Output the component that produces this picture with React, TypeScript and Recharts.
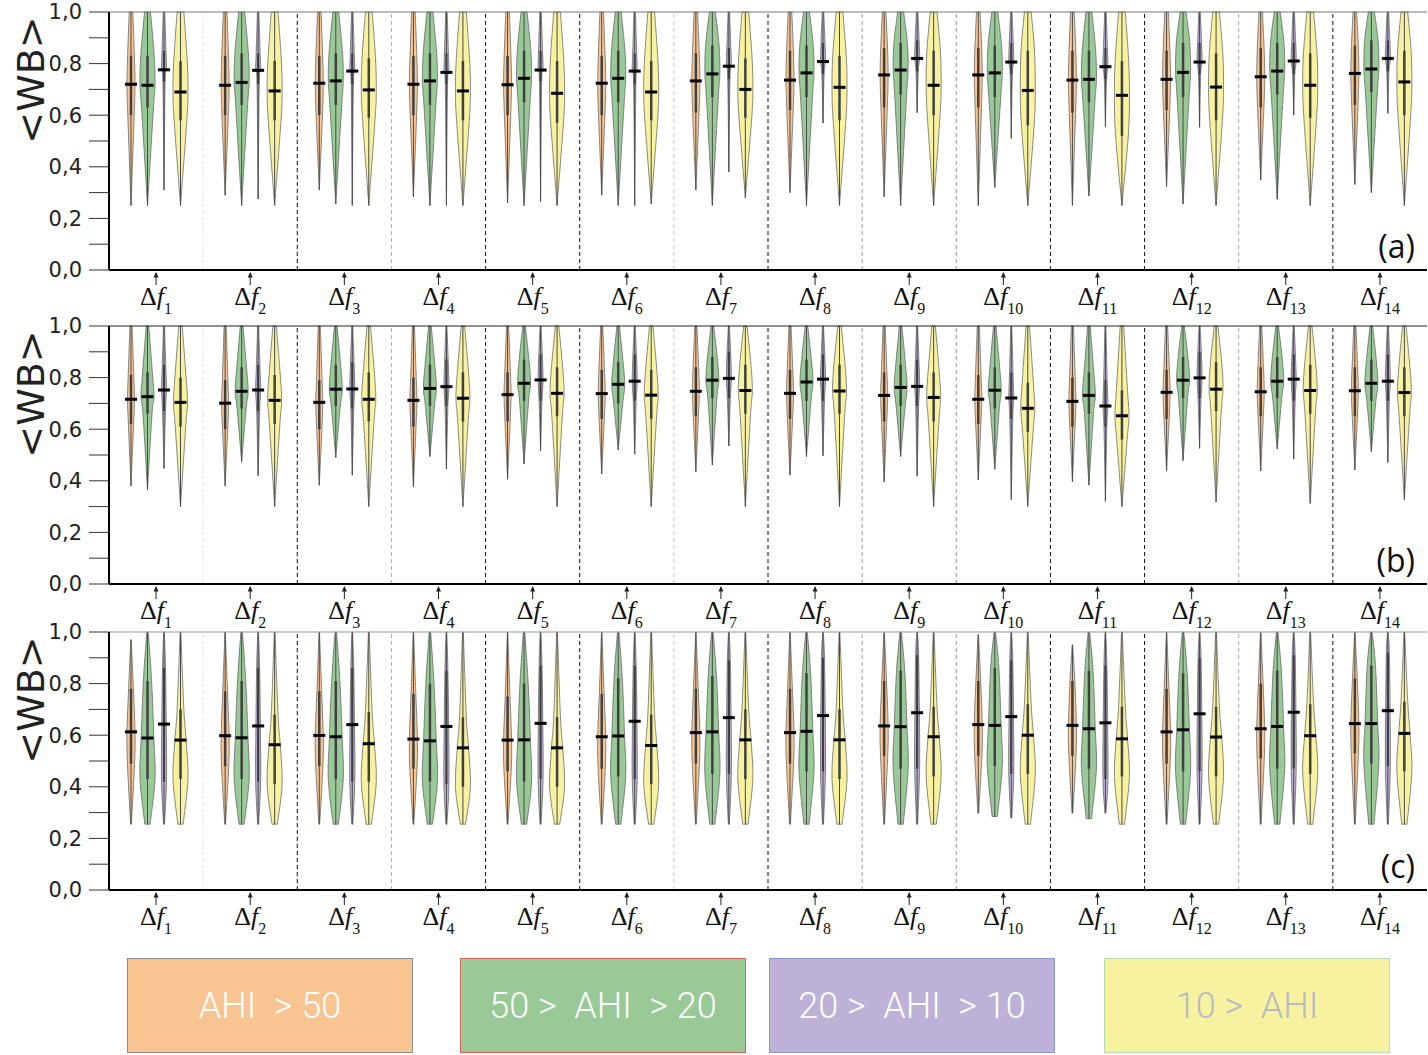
import React from 'react';
import { BarChart, Bar, XAxis, YAxis, ReferenceLine } from 'recharts';

// group labels (subscript of Δf)
const groups = ['1', '2', '3', '4', '5', '6', '7', '8', '9', '10', '11', '12', '13', '14'];
const yTicks = [0, 0.1, 0.2, 0.3, 0.4, 0.5, 0.6, 0.7, 0.8, 0.9, 1.0];
const legendLabels = ['AHI  > 50', '50 >  AHI  > 20', '20 >  AHI  > 10', '10 >  AHI'];

// ---- panel (a)
const aOrangeMed = [0.72, 0.716, 0.724, 0.72, 0.718, 0.724, 0.733, 0.736, 0.756, 0.756, 0.736, 0.739, 0.749, 0.762];
const aOrangeLo = [0.25, 0.29, 0.31, 0.284, 0.26, 0.29, 0.31, 0.3, 0.284, 0.25, 0.25, 0.323, 0.349, 0.332];
const aOrangeQ1 = [0.6, 0.6, 0.6, 0.6, 0.6, 0.6, 0.61, 0.62, 0.63, 0.63, 0.61, 0.62, 0.63, 0.64];
const aOrangeQ3 = [0.83, 0.83, 0.83, 0.83, 0.83, 0.83, 0.84, 0.85, 0.86, 0.86, 0.85, 0.85, 0.86, 0.87];
const aGreenMed = [0.716, 0.727, 0.733, 0.733, 0.743, 0.743, 0.76, 0.764, 0.775, 0.764, 0.739, 0.766, 0.771, 0.779];
const aGreenLo = [0.25, 0.25, 0.256, 0.25, 0.25, 0.25, 0.25, 0.25, 0.25, 0.32, 0.287, 0.256, 0.274, 0.3];
const aGreenQ1 = [0.63, 0.64, 0.64, 0.64, 0.65, 0.65, 0.67, 0.67, 0.68, 0.67, 0.65, 0.67, 0.68, 0.69];
const aGreenQ3 = [0.83, 0.84, 0.84, 0.84, 0.85, 0.85, 0.87, 0.87, 0.88, 0.87, 0.85, 0.88, 0.88, 0.89];
const aPurpleMed = [0.776, 0.774, 0.771, 0.766, 0.775, 0.771, 0.79, 0.808, 0.82, 0.806, 0.788, 0.806, 0.81, 0.82];
const aPurpleLo = [0.31, 0.275, 0.25, 0.25, 0.265, 0.25, 0.38, 0.57, 0.61, 0.51, 0.556, 0.553, 0.6, 0.607];
const aPurpleQ1 = [0.73, 0.72, 0.72, 0.72, 0.73, 0.72, 0.74, 0.76, 0.77, 0.76, 0.74, 0.76, 0.76, 0.77];
const aPurpleQ3 = [0.85, 0.84, 0.84, 0.84, 0.85, 0.84, 0.86, 0.88, 0.89, 0.88, 0.86, 0.88, 0.88, 0.89];
const aYellowMed = [0.69, 0.694, 0.698, 0.694, 0.685, 0.69, 0.7, 0.708, 0.716, 0.696, 0.677, 0.709, 0.716, 0.729];
const aYellowLo = [0.25, 0.25, 0.25, 0.25, 0.25, 0.256, 0.28, 0.25, 0.25, 0.25, 0.25, 0.25, 0.25, 0.25];
const aYellowQ1 = [0.58, 0.58, 0.59, 0.58, 0.57, 0.58, 0.59, 0.58, 0.6, 0.56, 0.52, 0.58, 0.59, 0.6];
const aYellowQ3 = [0.81, 0.81, 0.82, 0.81, 0.81, 0.81, 0.82, 0.83, 0.85, 0.85, 0.81, 0.84, 0.84, 0.85];

// ---- panel (b)
const bOrangeMed = [0.716, 0.701, 0.704, 0.712, 0.734, 0.738, 0.747, 0.739, 0.731, 0.716, 0.708, 0.743, 0.745, 0.749];
const bOrangeLo = [0.38, 0.38, 0.383, 0.377, 0.406, 0.426, 0.435, 0.422, 0.396, 0.403, 0.396, 0.439, 0.438, 0.442];
const bOrangeQ1 = [0.62, 0.6, 0.6, 0.61, 0.63, 0.64, 0.65, 0.64, 0.63, 0.62, 0.61, 0.64, 0.65, 0.65];
const bOrangeQ3 = [0.81, 0.79, 0.79, 0.8, 0.82, 0.83, 0.84, 0.83, 0.82, 0.81, 0.8, 0.83, 0.84, 0.84];
const bGreenMed = [0.726, 0.747, 0.755, 0.758, 0.778, 0.774, 0.79, 0.783, 0.762, 0.751, 0.731, 0.79, 0.786, 0.778];
const bGreenLo = [0.364, 0.474, 0.49, 0.494, 0.465, 0.52, 0.461, 0.494, 0.494, 0.445, 0.383, 0.478, 0.523, 0.513];
const bGreenQ1 = [0.66, 0.68, 0.69, 0.69, 0.71, 0.7, 0.72, 0.71, 0.69, 0.68, 0.66, 0.72, 0.72, 0.71];
const bGreenQ3 = [0.82, 0.84, 0.85, 0.85, 0.87, 0.86, 0.88, 0.87, 0.85, 0.84, 0.82, 0.88, 0.88, 0.87];
const bPurpleMed = [0.752, 0.752, 0.756, 0.765, 0.791, 0.786, 0.797, 0.794, 0.766, 0.721, 0.69, 0.799, 0.794, 0.786];
const bPurpleLo = [0.448, 0.42, 0.422, 0.445, 0.516, 0.504, 0.535, 0.497, 0.418, 0.327, 0.32, 0.526, 0.484, 0.471];
const bPurpleQ1 = [0.67, 0.67, 0.68, 0.69, 0.71, 0.71, 0.72, 0.71, 0.69, 0.64, 0.61, 0.72, 0.71, 0.71];
const bPurpleQ3 = [0.85, 0.85, 0.86, 0.87, 0.89, 0.89, 0.9, 0.89, 0.87, 0.82, 0.79, 0.9, 0.89, 0.89];
const bYellowMed = [0.704, 0.712, 0.716, 0.72, 0.739, 0.732, 0.75, 0.748, 0.723, 0.681, 0.652, 0.755, 0.75, 0.742];
const bYellowLo = [0.3, 0.3, 0.3, 0.3, 0.3, 0.3, 0.3, 0.3, 0.3, 0.3, 0.3, 0.318, 0.312, 0.327];
const bYellowQ1 = [0.61, 0.62, 0.63, 0.63, 0.65, 0.64, 0.66, 0.66, 0.63, 0.59, 0.56, 0.67, 0.66, 0.65];
const bYellowQ3 = [0.8, 0.81, 0.82, 0.82, 0.84, 0.83, 0.85, 0.85, 0.82, 0.78, 0.75, 0.86, 0.85, 0.84];

// ---- panel (c)
const cOrangeMed = [0.613, 0.598, 0.599, 0.585, 0.581, 0.594, 0.61, 0.61, 0.636, 0.641, 0.638, 0.613, 0.625, 0.645];
const cOrangeLo = [0.255, 0.255, 0.255, 0.255, 0.255, 0.255, 0.255, 0.255, 0.255, 0.298, 0.298, 0.255, 0.255, 0.255];
const cOrangeHi = [0.97, 1, 1, 1, 1, 1, 1, 1, 1, 0.99, 0.95, 1, 1, 1];
const cOrangeQ1 = [0.49, 0.48, 0.48, 0.47, 0.46, 0.47, 0.49, 0.49, 0.52, 0.52, 0.52, 0.49, 0.51, 0.53];
const cOrangeQ3 = [0.78, 0.77, 0.77, 0.76, 0.75, 0.76, 0.78, 0.78, 0.81, 0.81, 0.81, 0.78, 0.8, 0.82];
const cGreenMed = [0.589, 0.59, 0.594, 0.578, 0.582, 0.597, 0.613, 0.615, 0.633, 0.638, 0.625, 0.621, 0.634, 0.645];
const cGreenLo = [0.255, 0.255, 0.255, 0.255, 0.255, 0.255, 0.255, 0.255, 0.255, 0.285, 0.276, 0.255, 0.255, 0.255];
const cGreenQ1 = [0.43, 0.43, 0.43, 0.42, 0.42, 0.44, 0.45, 0.46, 0.47, 0.48, 0.47, 0.46, 0.47, 0.49];
const cGreenQ3 = [0.81, 0.81, 0.81, 0.8, 0.8, 0.82, 0.83, 0.84, 0.85, 0.86, 0.85, 0.84, 0.85, 0.87];
const cPurpleMed = [0.643, 0.636, 0.641, 0.634, 0.646, 0.654, 0.668, 0.676, 0.687, 0.672, 0.648, 0.683, 0.689, 0.695];
const cPurpleLo = [0.255, 0.255, 0.255, 0.255, 0.255, 0.255, 0.255, 0.255, 0.255, 0.279, 0.298, 0.255, 0.255, 0.255];
const cPurpleQ1 = [0.42, 0.42, 0.42, 0.41, 0.43, 0.43, 0.45, 0.46, 0.47, 0.45, 0.43, 0.46, 0.47, 0.48];
const cPurpleQ3 = [0.86, 0.86, 0.86, 0.85, 0.87, 0.87, 0.89, 0.9, 0.91, 0.89, 0.87, 0.9, 0.91, 0.92];
const cYellowMed = [0.581, 0.563, 0.567, 0.551, 0.551, 0.56, 0.582, 0.582, 0.594, 0.6, 0.586, 0.593, 0.598, 0.607];
const cYellowLo = [0.255, 0.255, 0.255, 0.255, 0.255, 0.255, 0.255, 0.255, 0.255, 0.255, 0.255, 0.255, 0.255, 0.255];
const cYellowQ1 = [0.43, 0.41, 0.42, 0.4, 0.4, 0.41, 0.43, 0.43, 0.44, 0.45, 0.44, 0.44, 0.45, 0.46];
const cYellowQ3 = [0.7, 0.68, 0.69, 0.67, 0.67, 0.68, 0.7, 0.7, 0.71, 0.72, 0.71, 0.71, 0.72, 0.73];

const classes = ['orange', 'green', 'purple', 'yellow'];
const fills: Record<string, string> = { orange: '#F8C592', green: '#99C996', purple: '#BDB1D7', yellow: '#F7F29F' };
const legendBorders = ['#8c8c8c', '#e0605a', '#8a96cf', '#b4dcb0'];
const legendText = ['#fff', '#fff', '#fff', '#b9b9c6'];
const legendLefts = [127, 460, 769, 1104];
// dashed separator after each group (1..13): dark / light
const sepTones = ['#e4e4e4', '#111', '#b0b0b0', '#111', '#111', '#c0c0c0', '#111', '#999', '#999', '#111', '#111', '#aaa', '#111'];

type Series = { med: number[]; lo: number[]; q1: number[]; q3: number[]; hi?: number[] };

const buildRows = (s: Record<string, Series>) =>
  groups.map((g, i) => {
    const row: any = { g };
    classes.forEach((c) => {
      const d = s[c];
      row[c] = { lo: d.lo[i], q1: d.q1[i], med: d.med[i], q3: d.q3[i], hi: d.hi ? d.hi[i] : 1 };
    });
    return row;
  });

const rowsA = buildRows({
  orange: { med: aOrangeMed, lo: aOrangeLo, q1: aOrangeQ1, q3: aOrangeQ3 },
  green: { med: aGreenMed, lo: aGreenLo, q1: aGreenQ1, q3: aGreenQ3 },
  purple: { med: aPurpleMed, lo: aPurpleLo, q1: aPurpleQ1, q3: aPurpleQ3 },
  yellow: { med: aYellowMed, lo: aYellowLo, q1: aYellowQ1, q3: aYellowQ3 },
});
const rowsB = buildRows({
  orange: { med: bOrangeMed, lo: bOrangeLo, q1: bOrangeQ1, q3: bOrangeQ3 },
  green: { med: bGreenMed, lo: bGreenLo, q1: bGreenQ1, q3: bGreenQ3 },
  purple: { med: bPurpleMed, lo: bPurpleLo, q1: bPurpleQ1, q3: bPurpleQ3 },
  yellow: { med: bYellowMed, lo: bYellowLo, q1: bYellowQ1, q3: bYellowQ3 },
});
const rowsC = buildRows({
  orange: { med: cOrangeMed, lo: cOrangeLo, q1: cOrangeQ1, q3: cOrangeQ3, hi: cOrangeHi },
  green: { med: cGreenMed, lo: cGreenLo, q1: cGreenQ1, q3: cGreenQ3 },
  purple: { med: cPurpleMed, lo: cPurpleLo, q1: cPurpleQ1, q3: cPurpleQ3 },
  yellow: { med: cYellowMed, lo: cYellowLo, q1: cYellowQ1, q3: cYellowQ3 },
});

// violin outline: relative half-width at [lo, q1, med, q3, hi], and max half-width in px
const shapeA: Record<string, { w: number[]; hw: number }> = {
  orange: { w: [0, 0.8, 1, 0.85, 0.45], hw: 4 },
  green: { w: [0, 0.8, 1, 0.9, 0.4], hw: 7.5 },
  purple: { w: [0, 0.45, 1, 0.8, 0.3], hw: 2.5 },
  yellow: { w: [0, 0.85, 1, 0.9, 0.45], hw: 7.5 },
};
const shapeB: Record<string, { w: number[]; hw: number }> = {
  orange: { w: [0, 0.75, 1, 0.8, 0.3], hw: 3.5 },
  green: { w: [0, 0.7, 1, 0.75, 0.2], hw: 6.5 },
  purple: { w: [0, 0.6, 1, 0.7, 0.2], hw: 2.5 },
  yellow: { w: [0, 0.75, 1, 0.8, 0.25], hw: 7 },
};
const shapeC: Record<string, { w: number[]; hw: number }> = {
  orange: { w: [0.1, 0.9, 1, 0.6, 0.05], hw: 4 },
  green: { w: [0.35, 1, 0.85, 0.55, 0.1], hw: 7.5 },
  purple: { w: [0.2, 1, 0.9, 0.6, 0.15], hw: 2.5 },
  yellow: { w: [0.35, 1, 0.75, 0.45, 0.05], hw: 7.5 },
};

const curve = (pts: number[][], start: boolean) => {
  let d = `${start ? 'M' : 'L'}${pts[0][0]},${pts[0][1]}`;
  for (let i = 0; i < pts.length - 1; i++) {
    const p0 = pts[i - 1] || pts[i];
    const p1 = pts[i];
    const p2 = pts[i + 1];
    const p3 = pts[i + 2] || pts[i + 1];
    const c1x = p1[0] + (p2[0] - p0[0]) / 6;
    const c1y = p1[1] + (p2[1] - p0[1]) / 6;
    const c2x = p2[0] - (p3[0] - p1[0]) / 6;
    const c2y = p2[1] - (p3[1] - p1[1]) / 6;
    d += ` C${c1x},${c1y} ${c2x},${c2y} ${p2[0]},${p2[1]}`;
  }
  return d;
};

const Violin = (props: any) => {
  const { x, y, width, height, payload, cls, shape } = props;
  const s = payload && payload[cls];
  if (!s || !height) return null;
  const cx = x + width / 2;
  // map a value into the bar's pixel span (bar = [lo, hi] on the y scale)
  const py = (v: number) => y + (height * (s.hi - v)) / (s.hi - s.lo);
  const vals = [s.lo, s.q1, s.med, s.q3, s.hi];
  const { w, hw } = shape[cls];
  const right = vals.map((v, i) => [cx + w[i] * hw, py(v)]);
  const left = vals.map((v, i) => [cx - w[i] * hw, py(v)]).reverse();
  const d = curve(right, true) + ' ' + curve(left, false) + ' Z';
  return (
    <g>
      <path d={d} fill={fills[cls]} stroke="#5a5a5a" strokeWidth={0.7} />
      <line x1={cx} x2={cx} y1={py(s.lo)} y2={py(s.hi)} stroke="#4a4a4a" strokeWidth={1} />
      <line x1={cx} x2={cx} y1={py(s.q1)} y2={py(s.q3)} stroke="#404040" strokeWidth={cls === 'purple' ? 2.2 : 2.5} />
      <line x1={cx - 6} x2={cx + 6} y1={py(s.med)} y2={py(s.med)} stroke="#000" strokeWidth={3} />
    </g>
  );
};

const DeltaTick = (props: any) => {
  const { x, y, payload } = props;
  return (
    <g>
      <line x1={x} x2={x} y1={y + 3} y2={y + 15} stroke="#222" strokeWidth={1} />
      <path d={`M${x - 2.5},${y + 7.5} L${x},${y + 2} L${x + 2.5},${y + 7.5} Z`} fill="#222" />
      <text x={x} y={y + 35} textAnchor="middle" fontFamily="'Liberation Serif', 'DejaVu Serif', serif" fontSize={26} fill="#111">
        <tspan>Δ</tspan>
        <tspan fontStyle="italic">f</tspan>
        <tspan dy={9} fontSize={16}>{payload.value}</tspan>
      </text>
    </g>
  );
};

const renderYLabel = (p: any) => {
  const vb = p && p.viewBox ? p.viewBox : { x: 0, y: 12 };
  const cx = vb.x + 31;
  const cy = vb.y + 68;
  return (
    <text x={cx} y={cy} transform={`rotate(-90 ${cx} ${cy})`} textAnchor="middle" dominantBaseline="central"
      fontSize={38} fontFamily="'DejaVu Sans', sans-serif" fill="#222">
      {'<WB>'}
    </text>
  );
};

const fmtY = (v: number) => (Math.round(v * 10) % 2 === 0 ? v.toFixed(1).replace('.', ',') : '');

const Panel = ({ rows, tag, shape, topLine }: { rows: any[]; tag: string; shape: any; topLine: string }) => (
  <BarChart width={1428} height={320} data={rows} margin={{ top: 12, right: 1, bottom: 6, left: 0 }} barSize={16} barGap={0.5}>
    <XAxis dataKey="g" height={44} interval={0} tickLine={false} tickSize={0} tickMargin={0}
      axisLine={{ stroke: '#000', strokeWidth: 2 }} tick={<DeltaTick />} />
    <YAxis domain={[0, 1]} ticks={yTicks} interval={0} width={109} tickSize={20} tickMargin={7}
      tickLine={{ stroke: '#333' }} axisLine={{ stroke: '#000', strokeWidth: 2 }} tickFormatter={fmtY}
      tick={{ fontSize: 21, fill: '#222', fontFamily: "'DejaVu Sans', sans-serif" }} label={{ content: renderYLabel }} />
    <YAxis yAxisId="r" orientation="right" width={0} domain={[0, 1]} tick={false} tickLine={false}
      axisLine={{ stroke: '#111', strokeWidth: 1 }} />
    {groups.slice(0, 13).map((g, i) => (
      <ReferenceLine key={g} x={g} position="end" stroke={sepTones[i]} strokeDasharray="4 3" strokeWidth={1} />
    ))}
    <ReferenceLine y={1} stroke={topLine} strokeWidth={1} />
    <ReferenceLine y={0} stroke="none"
      label={{ value: tag, position: 'insideBottomRight', offset: 12, fontSize: 32, fill: '#111', fontFamily: "'Open Sans', sans-serif" }} />
    {classes.map((c) => (
      <Bar key={c} dataKey={(d: any) => [d[c].lo, d[c].hi]} isAnimationActive={false}
        shape={(p: any) => <Violin {...p} cls={c} shape={shape} />} />
    ))}
  </BarChart>
);

export default function App() {
  return (
    <div style={{ position: 'absolute', left: 0, top: 0, width: 1428, height: 1055, background: '#fff' }}>
      <div style={{ position: 'absolute', left: 0, top: 0 }}>
        <Panel rows={rowsA} tag="(a)" shape={shapeA} topLine="#777" />
      </div>
      <div style={{ position: 'absolute', left: 0, top: 314 }}>
        <Panel rows={rowsB} tag="(b)" shape={shapeB} topLine="#222" />
      </div>
      <div style={{ position: 'absolute', left: 0, top: 620 }}>
        <Panel rows={rowsC} tag="(c)" shape={shapeC} topLine="#999" />
      </div>
      {legendLabels.map((t, i) => (
        <div key={t} style={{
          position: 'absolute', left: legendLefts[i], top: 958, width: 286, height: 95, boxSizing: 'border-box',
          background: fills[classes[i]], border: `1px solid ${legendBorders[i]}`, display: 'flex',
          alignItems: 'center', justifyContent: 'center', color: legendText[i], fontSize: 36,
          fontFamily: "'Roboto', 'DejaVu Sans', sans-serif", fontWeight: 300, whiteSpace: 'pre',
        }}>
          {t}
        </div>
      ))}
    </div>
  );
}
